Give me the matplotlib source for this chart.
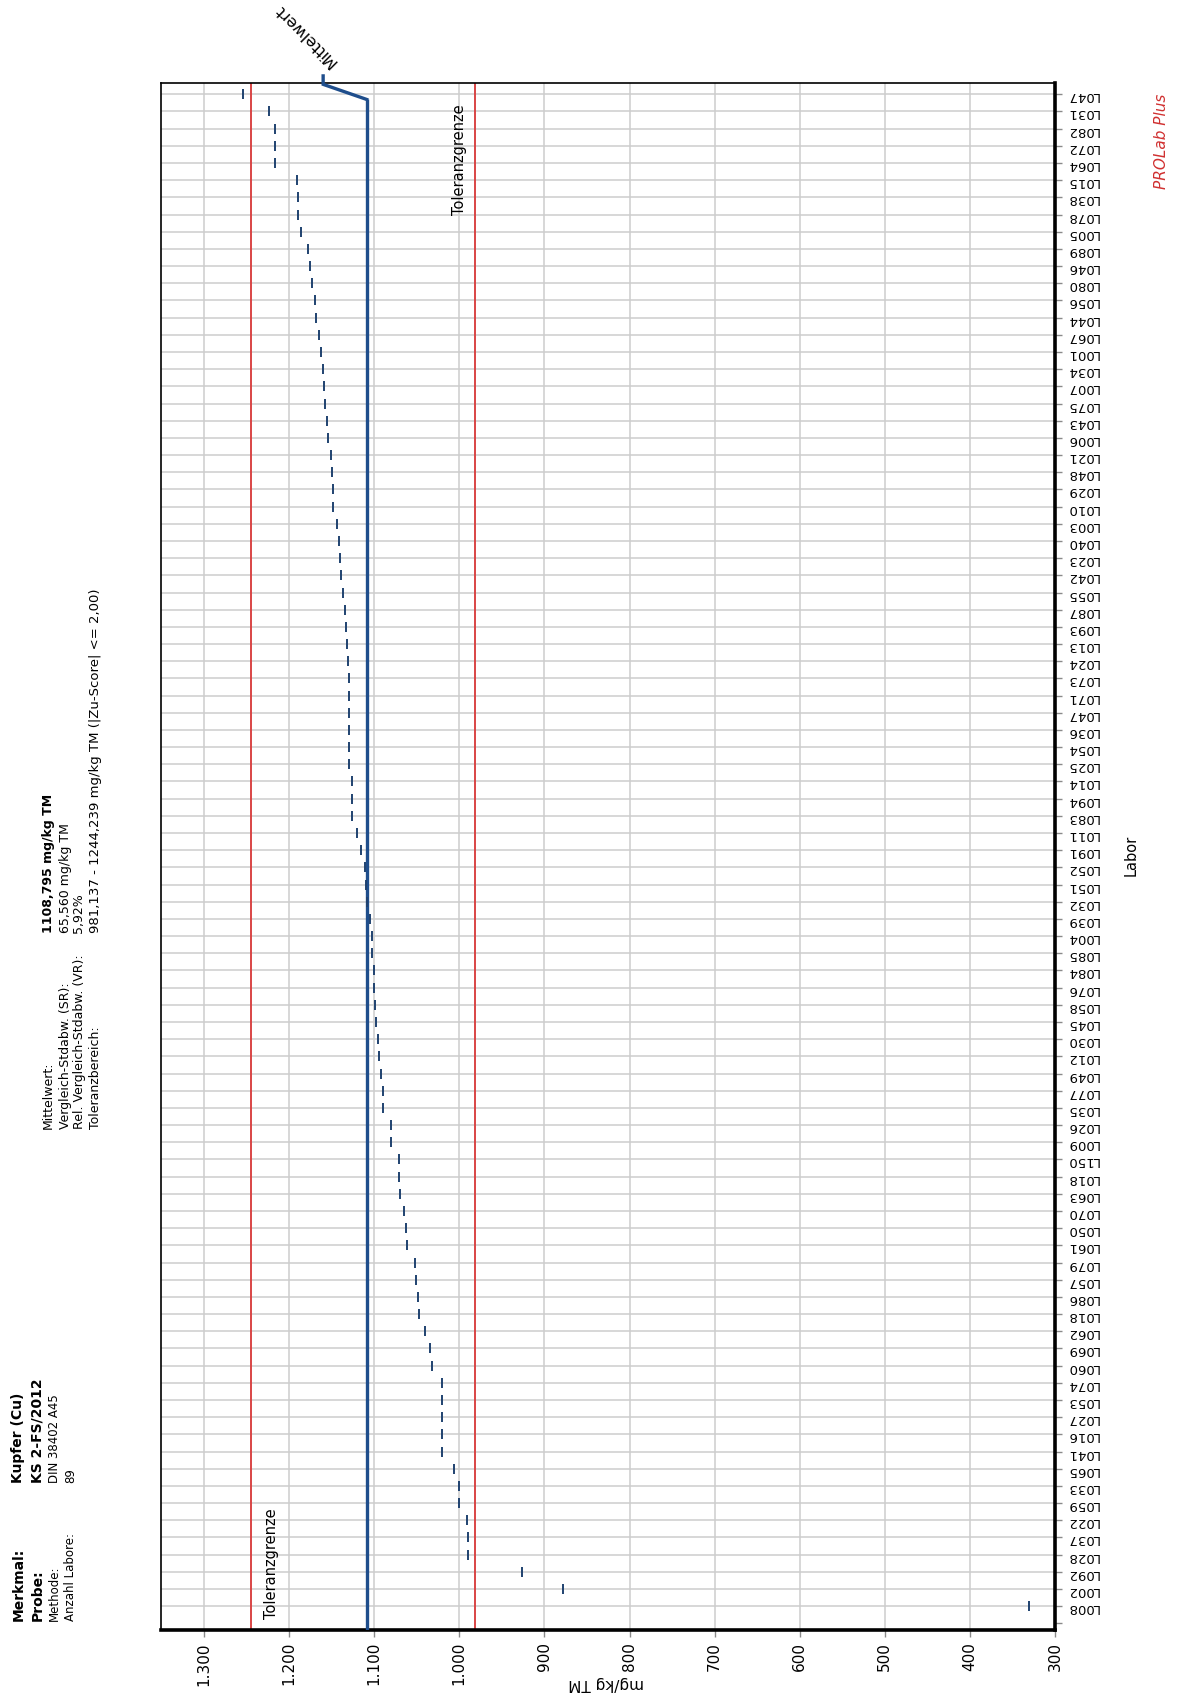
import matplotlib
matplotlib.use("Agg")
import matplotlib.pyplot as plt
from matplotlib.ticker import FixedLocator

# ---------------- data ----------------
labs = ["L047","L031","L082","L072","L064","L015","L038","L078","L005","L089",
        "L046","L080","L056","L044","L067","L001","L034","L007","L075","L043",
        "L006","L021","L048","L029","L010","L003","L040","L023","L042","L055",
        "L087","L093","L013","L024","L073","L071","L047","L036","L054","L025",
        "L014","L094","L083","L011","L091","L052","L051","L032","L039","L004",
        "L085","L084","L076","L058","L045","L030","L012","L049","L077","L035",
        "L026","L009","L150","L018","L063","L070","L050","L061","L079","L057",
        "L086","L018","L062","L069","L060","L074","L053","L027","L016","L041",
        "L065","L033","L059","L022","L037","L028","L092","L002","L008"]

values = [1254.5, 1223.5, 1216, 1216, 1216, 1191, 1189, 1189, 1186, 1178,
          1175, 1173, 1170, 1168, 1165, 1163, 1160, 1159, 1158, 1155,
          1154, 1151, 1150, 1149, 1148, 1144, 1141, 1139.8, 1138.6, 1137,
          1134.7, 1132.8, 1132.4, 1130.9, 1129.7, 1129.3, 1129.3, 1129.3, 1129.3, 1129.3,
          1125.9, 1125.9, 1125.9, 1120.5, 1115, 1111, 1110, 1109, 1104.6, 1102.7,
          1102.7, 1100.8, 1100.8, 1098.5, 1098, 1095.8, 1093.8, 1091.5, 1089.2, 1089.2,
          1080.7, 1080.7, 1071.4, 1071.4, 1069.9, 1064.9, 1062.9, 1061, 1052.5, 1050.6,
          1049, 1047.1, 1040.5, 1034.4, 1032, 1020.5, 1020.5, 1020.5, 1020.5, 1020.5,
          1006, 1000, 1000, 991, 990, 990, 926, 878, 330]

mean_value = 1108.795
tol_low = 981.137
tol_high = 1244.239

value_ticks = [300, 400, 500, 600, 700, 800, 900, 1000, 1100, 1200, 1300]
value_tick_labels = ["300", "400", "500", "600", "700", "800", "900",
                     "1.000", "1.100", "1.200", "1.300"]

header1_keys = ["Merkmal:", "Probe:", "Methode:", "Anzahl Labore:"]
header1_vals = ["Kupfer (Cu)", "KS 2-FS/2012", "DIN 38402 A45", "89"]
header2_keys = ["Mittelwert:", "Vergleich-Stdabw. (SR):",
                "Rel. Vergleich-Stdabw. (VR):", "Toleranzbereich:"]
header2_vals = ["1108,795 mg/kg TM", "65,560 mg/kg TM", "5,92%",
                "981,137 - 1244,239 mg/kg TM (|Zu-Score| <= 2,00)"]

# ---------------- styling ----------------
W, H = 1178, 1697
navy = "#1f4270"
mean_col = "#1f4e8c"
red = "#d94545"
grid_col = "#cdcdcd"

fig = plt.figure(figsize=(W / 100, H / 100), dpi=100)
fig.patch.set_facecolor("white")

ax_l, ax_r, ax_t, ax_b = 160.6, 1055.0, 82.7, 1629.5
ax = fig.add_axes([ax_l / W, 1 - ax_b / H, (ax_r - ax_l) / W, (ax_b - ax_t) / H])

rows = list(range(len(labs)))
y_top, y_bot = -0.675, 89.36
ax.set_xlim(1351, 300)
ax.set_ylim(y_bot, y_top)

# grid
ax.set_xticks(value_ticks)
ax.set_xticklabels(value_tick_labels)
ax.set_yticks(rows)
ax.set_yticklabels(labs)
ax.yaxis.set_minor_locator(FixedLocator([len(labs)]))
ax.grid(True, which="major", color=grid_col, lw=1.1, zorder=0)
ax.set_axisbelow(True)

ax.yaxis.tick_right()
ax.tick_params(axis="y", which="both", right=True, left=False, length=5,
               color="#8a8a8a", width=1, pad=3, labelsize=9.5, labelrotation=180)
ax.tick_params(axis="x", length=5, color="#8a8a8a", width=1, pad=4,
               labelsize=11, labelrotation=90)

for side in ["top", "left"]:
    ax.spines[side].set_linewidth(1.2)
for side in ["right", "bottom"]:
    ax.spines[side].set_linewidth(2.6)
for s in ax.spines.values():
    s.set_color("black")

# tolerance and mean lines
ax.axvline(tol_high, color=red, lw=1.4, zorder=2)
ax.axvline(tol_low, color=red, lw=1.4, zorder=2)
ax.plot([mean_value, mean_value], [y_bot, 0.3], color=mean_col, lw=2.4, zorder=3,
        solid_capstyle="butt")
leader_x = 1160
ax.plot([mean_value, leader_x, leader_x], [0.3, -0.58, -1.07], color=mean_col,
        lw=2.4, zorder=3, clip_on=False, solid_joinstyle="miter")

# data marks
ax.plot(values, rows, ls="none", marker="|", ms=7.5, mew=1.4, color=navy, zorder=4)

# annotations inside plot
ax.text(1220.5, 88.75, "Toleranzgrenze", rotation=90, ha="center", va="bottom",
        fontsize=10.5, color="black")
ax.text(1000.0, 0.57, "Toleranzgrenze", rotation=90, ha="center", va="top",
        fontsize=10.5, color="black")


def ftxt(x, y, s, **kw):
    fig.text(x / W, 1 - y / H, s, **kw)


ftxt(334, 64, "Mittelwert", rotation=135, rotation_mode="anchor",
     ha="left", va="center", fontsize=11.5)

# header block 1
xs1 = [18.4, 37.9, 54.1, 70.4]
for i, (k, v) in enumerate(zip(header1_keys, header1_vals)):
    bold = i < 2
    ftxt(xs1[i], 1621, k, rotation=90, ha="center", va="bottom",
         fontsize=10 if bold else 8.5, fontweight="bold" if bold else "normal")
    ftxt(xs1[i], 1483, v, rotation=90, ha="center", va="bottom",
         fontsize=10 if bold else 8.5, fontweight="bold" if bold else "normal")

# header block 2
xs2 = [48.7, 65.0, 79.0, 95.3]
for i, (k, v) in enumerate(zip(header2_keys, header2_vals)):
    ftxt(xs2[i], 1129, k, rotation=90, ha="center", va="bottom", fontsize=9)
    ftxt(xs2[i], 933, v, rotation=90, ha="center", va="bottom",
         fontsize=9.5 if i == 3 else 9,
         fontweight="bold" if i == 0 else "normal")

# axis titles
ftxt(1131, 855, "Labor", rotation=90, ha="center", va="center", fontsize=10.5)
ftxt(606, 1684, "mg/kg TM", rotation=180, ha="center", va="center", fontsize=11)
ftxt(1161, 141, "PROLab Plus", rotation=90, ha="center", va="center",
     fontsize=11, color="#d03030", style="italic")

fig.savefig("out.png", dpi=100, facecolor="white")
